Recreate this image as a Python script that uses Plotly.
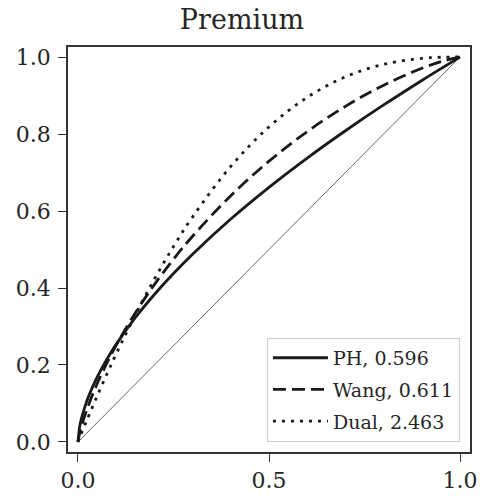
import plotly.graph_objects as go

s_vals = [0.0, 0.005, 0.01, 0.02, 0.03, 0.05, 0.075, 0.1, 0.15, 0.2, 0.25, 0.3,
          0.4, 0.5, 0.6, 0.7, 0.8, 0.9, 0.95, 1.0]
ph_vals = [0.0, 0.0425, 0.0643, 0.0971, 0.1237, 0.1677, 0.2136, 0.2535, 0.3228,
           0.3832, 0.4377, 0.4879, 0.5792, 0.6616, 0.7375, 0.8085, 0.8755,
           0.9391, 0.9699, 1.0]
wang_vals = [0.0, 0.0247, 0.0431, 0.0746, 0.1021, 0.1506, 0.2037, 0.2512, 0.3353,
             0.4088, 0.4747, 0.5345, 0.6397, 0.7294, 0.8063, 0.8719, 0.9268,
             0.9708, 0.9880, 1.0]
dual_vals = [0.0, 0.0123, 0.0245, 0.0485, 0.0723, 0.1187, 0.1747, 0.2286, 0.3299,
             0.4228, 0.5077, 0.5846, 0.7158, 0.8186, 0.8953, 0.9485, 0.9810,
             0.9966, 0.9994, 1.0]
series_names = ["PH, 0.596", "Wang, 0.611", "Dual, 2.463"]
diag_vals = [0.0, 1.0]
tick_vals_x = [0.0, 0.5, 1.0]
tick_text_x = ["0.0", "0.5", "1.0"]
tick_vals_y = [0.0, 0.2, 0.4, 0.6, 0.8, 1.0]
tick_text_y = ["0.0", "0.2", "0.4", "0.6", "0.8", "1.0"]

FONT = "DejaVu Serif"
INK = "#262626"

fig = go.Figure()
fig.add_trace(go.Scatter(x=diag_vals, y=diag_vals, mode="lines",
                         line=dict(color="black", width=0.6), showlegend=False,
                         hoverinfo="skip"))
for i, (name, vals, dash) in enumerate(zip(series_names, [ph_vals, wang_vals, dual_vals],
                                           ["solid", "13px,6px", "3px,6px"])):
    fig.add_trace(go.Scatter(x=s_vals, y=vals, mode="lines", name=name,
                             legendgroup=f"g{i}",
                             line=dict(color="#1a1a1a", width=2.8, dash=dash,
                                       shape="spline")))

axis_common = dict(range=[-0.026, 1.026], showgrid=False, zeroline=False,
                   showline=True, linecolor="#333333", linewidth=1.5, mirror=True,
                   ticks="outside", ticklen=8, tickwidth=1.2, tickcolor="#333333",
                   tickfont=dict(family=FONT, size=22, color=INK))
fig.update_xaxes(tickvals=tick_vals_x, ticktext=tick_text_x, **axis_common)
fig.update_yaxes(tickvals=tick_vals_y, ticktext=tick_text_y, ticklabelstandoff=3,
                 **axis_common)

fig.update_layout(
    width=484, height=500,
    margin=dict(l=68, r=7, t=47, b=45),
    paper_bgcolor="white", plot_bgcolor="white",
    title=dict(text="Premium", x=0.5, xanchor="center", y=0.96, yanchor="middle",
               font=dict(family=FONT, size=27, color=INK)),
    legend=dict(x=0.975, y=0.025, xanchor="right", yanchor="bottom",
                bgcolor="rgba(255,255,255,0.9)", bordercolor="#cccccc", borderwidth=1,
                font=dict(family=FONT, size=19, color=INK),
                itemwidth=55, tracegroupgap=4),
)

fig.write_html("out.html")
